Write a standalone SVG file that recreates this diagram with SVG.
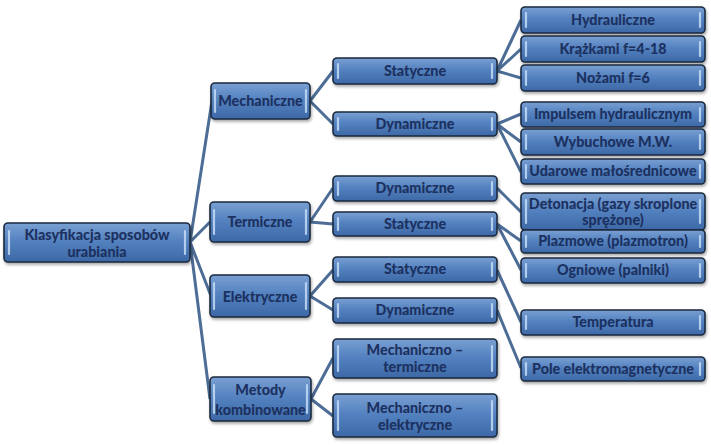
<svg xmlns="http://www.w3.org/2000/svg" width="711" height="446" viewBox="0 0 711 446">
<defs>
<linearGradient id="g" x1="0" y1="0" x2="0" y2="1">
<stop offset="0" stop-color="#7aa0d2"/>
<stop offset="0.45" stop-color="#5482c0"/>
<stop offset="1" stop-color="#3d68a6"/>
</linearGradient>
<filter id="sh" x="-10%" y="-20%" width="120%" height="150%">
<feDropShadow dx="1" dy="2" stdDeviation="1.5" flood-color="#000" flood-opacity="0.35"/>
</filter>
</defs>
<style>
.b{fill:url(#g);stroke:#1b2a3f;stroke-width:1.6;filter:url(#sh)}
.h{stroke:#c4dcf4;stroke-width:2.2;stroke-linecap:round;fill:none;opacity:0.85}
.t{font-family:Lato,"Liberation Sans",sans-serif;font-weight:900;font-size:14.3px;fill:#1c3160;text-anchor:middle}
.c{stroke:#4d6d96;stroke-width:3;fill:none}
</style>
<rect width="711" height="446" fill="#ffffff"/>
<g id="connectors">
<path class="c" d="M190,242 L212,101 M190,242 L210,222 M190,242 L211,296 M190,242 L210,399"/>
<path class="c" d="M310,101 L333,71 M310,101 L333,124"/>
<path class="c" d="M310,222 L333,188 M310,222 L333,224"/>
<path class="c" d="M310,296 L333,270 M310,296 L333,310"/>
<path class="c" d="M311,399 L333,358 M311,399 L333,416"/>
<path class="c" d="M497,71 L521,20 M497,71 L521,49 M497,71 L521,78"/>
<path class="c" d="M497,124 L521,114 M497,124 L521,142 M497,124 L521,172"/>
<path class="c" d="M497,188 L521,212"/>
<path class="c" d="M497,224 L521,241 M497,224 L521,270"/>
<path class="c" d="M497,270 L521,322"/>
<path class="c" d="M497,310 L521,368"/>
</g>
<g id="root">
<rect class="b" x="4" y="223" width="186" height="39" rx="4"/>
<path class="h" d="M9,231 V254 M185,231 V254"/>
<text class="t" x="97" y="240">Klasyfikacja sposobów</text>
<text class="t" x="97" y="257">urabiania</text>
</g>
<g id="mechaniczne">
<rect class="b" x="211" y="83" width="99" height="36" rx="4"/>
<path class="h" d="M215,90 V112 M306,90 V112"/>
<text class="t" x="260.5" y="106">Mechaniczne</text>
</g>
<g id="termiczne">
<rect class="b" x="210" y="202" width="100" height="40" rx="4"/>
<path class="h" d="M214,210 V234 M306,210 V234"/>
<text class="t" x="260" y="227">Termiczne</text>
</g>
<g id="elektryczne">
<rect class="b" x="210" y="275" width="100" height="42" rx="4"/>
<path class="h" d="M214,283 V309 M306,283 V309"/>
<text class="t" x="260" y="302">Elektryczne</text>
</g>
<g id="metody">
<rect class="b" x="210" y="377" width="101" height="44" rx="4"/>
<path class="h" d="M214,385 V413 M307,385 V413"/>
<text class="t" x="260.5" y="395">Metody</text>
<text class="t" x="260.5" y="415">kombinowane</text>
</g>
<g id="mech-stat">
<rect class="b" x="333" y="58" width="164" height="26" rx="4"/>
<path class="h" d="M338,64 V78 M492,64 V78"/>
<text class="t" x="415" y="76">Statyczne</text>
</g>
<g id="mech-dyn">
<rect class="b" x="333" y="112" width="164" height="24" rx="4"/>
<path class="h" d="M338,118 V130 M492,118 V130"/>
<text class="t" x="415" y="129">Dynamiczne</text>
</g>
<g id="term-dyn">
<rect class="b" x="333" y="176" width="164" height="25" rx="4"/>
<path class="h" d="M338,182 V195 M492,182 V195"/>
<text class="t" x="415" y="193">Dynamiczne</text>
</g>
<g id="term-stat">
<rect class="b" x="333" y="212" width="164" height="24" rx="4"/>
<path class="h" d="M338,218 V230 M492,218 V230"/>
<text class="t" x="415" y="229">Statyczne</text>
</g>
<g id="elek-stat">
<rect class="b" x="333" y="257" width="164" height="25" rx="4"/>
<path class="h" d="M338,263 V276 M492,263 V276"/>
<text class="t" x="415" y="274">Statyczne</text>
</g>
<g id="elek-dyn">
<rect class="b" x="333" y="298" width="164" height="25" rx="4"/>
<path class="h" d="M338,304 V317 M492,304 V317"/>
<text class="t" x="415" y="315">Dynamiczne</text>
</g>
<g id="mech-term">
<rect class="b" x="333" y="339" width="164" height="39" rx="4"/>
<path class="h" d="M338,346 V371 M492,346 V371"/>
<text class="t" x="415" y="355">Mechaniczno –</text>
<text class="t" x="415" y="372">termiczne</text>
</g>
<g id="mech-elek">
<rect class="b" x="333" y="394" width="164" height="43" rx="4"/>
<path class="h" d="M338,401 V430 M492,401 V430"/>
<text class="t" x="415" y="413">Mechaniczno –</text>
<text class="t" x="415" y="430">elektryczne</text>
</g>
<g id="hydrauliczne">
<rect class="b" x="521" y="7" width="184" height="26" rx="4"/>
<path class="h" d="M526,13 V27 M700,13 V27"/>
<text class="t" x="613" y="25">Hydrauliczne</text>
</g>
<g id="krazkami">
<rect class="b" x="521" y="36" width="184" height="26" rx="4"/>
<path class="h" d="M526,42 V56 M700,42 V56"/>
<text class="t" x="613" y="54">Krążkami f=4-18</text>
</g>
<g id="nozami">
<rect class="b" x="521" y="65" width="184" height="26" rx="4"/>
<path class="h" d="M526,71 V85 M700,71 V85"/>
<text class="t" x="613" y="83">Nożami f=6</text>
</g>
<g id="impulsem">
<rect class="b" x="521" y="102" width="184" height="25" rx="4"/>
<path class="h" d="M526,108 V121 M700,108 V121"/>
<text class="t" x="613" y="119">Impulsem hydraulicznym</text>
</g>
<g id="wybuchowe">
<rect class="b" x="521" y="129" width="184" height="26" rx="4"/>
<path class="h" d="M526,135 V149 M700,135 V149"/>
<text class="t" x="613" y="147">Wybuchowe M.W.</text>
</g>
<g id="udarowe">
<rect class="b" x="521" y="159" width="184" height="25" rx="4"/>
<path class="h" d="M526,165 V178 M700,165 V178"/>
<text class="t" x="613" y="176">Udarowe małośrednicowe</text>
</g>
<g id="detonacja">
<rect class="b" x="521" y="193" width="184" height="37" rx="4"/>
<path class="h" d="M526,200 V223 M700,200 V223"/>
<text class="t" x="613" y="209">Detonacja (gazy skroplone</text>
<text class="t" x="613" y="225">sprężone)</text>
</g>
<g id="plazmowe">
<rect class="b" x="521" y="230" width="184" height="23" rx="4"/>
<path class="h" d="M526,236 V247 M700,236 V247"/>
<text class="t" x="613" y="246">Plazmowe (plazmotron)</text>
</g>
<g id="ogniowe">
<rect class="b" x="521" y="258" width="184" height="25" rx="4"/>
<path class="h" d="M526,264 V277 M700,264 V277"/>
<text class="t" x="613" y="275">Ogniowe (palniki)</text>
</g>
<g id="temperatura">
<rect class="b" x="521" y="310" width="184" height="25" rx="4"/>
<path class="h" d="M526,316 V329 M700,316 V329"/>
<text class="t" x="613" y="327">Temperatura</text>
</g>
<g id="pole">
<rect class="b" x="521" y="357" width="184" height="24" rx="4"/>
<path class="h" d="M526,363 V375 M700,363 V375"/>
<text class="t" x="613" y="374">Pole elektromagnetyczne</text>
</g>
</svg>
